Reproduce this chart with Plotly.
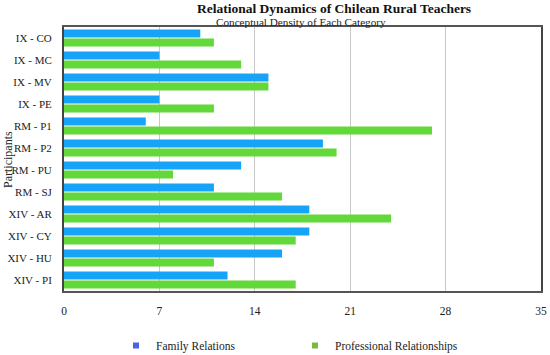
import plotly.graph_objects as go

participants = ["IX - CO", "IX - MC", "IX - MV", "IX - PE", "RM - P1", "RM - P2",
                "RM - PU", "RM - SJ", "XIV - AR", "XIV - CY", "XIV - HU", "XIV - PI"]
family = [10, 7, 15, 7, 6, 19, 13, 11, 18, 18, 16, 12]
professional = [11, 13, 15, 11, 27, 20, 8, 16, 24, 17, 11, 17]
x_ticks = [0, 7, 14, 21, 28, 35]

font = "Liberation Serif"
W, H = 550, 355
ML, MR, MT, MB = 64, 9, 27, 64
PW, PH = W - ML - MR, H - MT - MB


def px(x):
    return (x - ML) / PW


def py(y):
    return (H - MB - y) / PH


fig = go.Figure()
fig.add_trace(go.Bar(y=participants, x=family, orientation="h", name="Family Relations",
                     marker=dict(color="#16a3f8", line=dict(width=0)), showlegend=False))
fig.add_trace(go.Bar(y=participants, x=professional, orientation="h", name="Professional Relationships",
                     marker=dict(color="#62d83a", line=dict(width=0)), showlegend=False))
# legend entries (small square keys as in the reference)
fig.add_trace(go.Scatter(x=[None], y=[None], mode="markers", name="Family Relations",
                         marker=dict(symbol="square", size=6, color="#4a62e6")))
fig.add_trace(go.Scatter(x=[None], y=[None], mode="markers", name="Professional Relationships",
                         marker=dict(symbol="square", size=6, color="#7cb83c")))

fig.update_layout(
    width=W, height=H,
    margin=dict(l=ML, r=MR, t=MT, b=MB, autoexpand=False),
    paper_bgcolor="white", plot_bgcolor="white",
    barmode="group", bargap=0.18, bargroupgap=0.12,
    font=dict(family=font, color="#222", size=12),
    showlegend=True,
    legend=dict(orientation="h", x=px(116), xanchor="left", y=py(331), yanchor="top",
                font=dict(size=11.5, family=font, color="#222"), traceorder="normal",
                entrywidth=134, bgcolor="rgba(0,0,0,0)", borderwidth=0),
    annotations=[
        dict(text="<b>Relational Dynamics of Chilean Rural Teachers</b>", x=px(334), y=py(8.5),
             xref="paper", yref="paper", showarrow=False, xanchor="center", yanchor="middle",
             borderpad=0, font=dict(size=13.5, family=font, color="#111")),
        dict(text="Conceptual Density of Each Category", x=px(301), y=py(21.5),
             xref="paper", yref="paper", showarrow=False, xanchor="center", yanchor="middle",
             borderpad=0, font=dict(size=11.2, family=font, color="#222")),
        dict(text="Participants", x=px(8), y=py(160), xref="paper", yref="paper", showarrow=False,
             xanchor="center", yanchor="middle",
             textangle=-90, font=dict(size=12, family=font, color="#222")),
    ],
)

fig.update_xaxes(range=[0, 35], tickvals=x_ticks, showgrid=True, gridcolor="#c8c8c8", gridwidth=1,
                 showline=True, linecolor="#555", linewidth=2, mirror=True, zeroline=False,
                 ticks="", tickfont=dict(size=11.5, family=font, color="#222"),
                 ticklabelstandoff=8, automargin=False)
fig.update_yaxes(autorange="reversed", showline=True, linecolor="#444", linewidth=2, mirror=True,
                 ticks="", tickfont=dict(size=11, family=font, color="#222"),
                 ticklabelstandoff=8, automargin=False)

fig.write_html("out.html", config={"displayModeBar": False},
               post_script="document.body.style.margin='0';")
